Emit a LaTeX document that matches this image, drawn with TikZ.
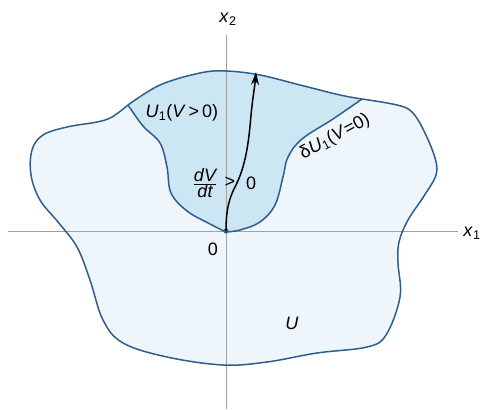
\documentclass[tikz,border=0pt]{standalone}
\usepackage{fontspec}
\setmainfont{Liberation Sans}
\usetikzlibrary{arrows.meta}
\definecolor{outerfill}{HTML}{EEF6FC}
\definecolor{innerfill}{HTML}{CDE6F4}
\definecolor{bnd}{HTML}{2E5E8C}
\definecolor{axisgray}{HTML}{A0A0A0}
\tikzset{
  boundary/.style={draw=bnd, line width=1.5pt, line join=round},
  axisline/.style={draw=axisgray, line width=0.7pt},
  lbl/.style={font=\fontsize{18}{20}\selectfont, inner sep=0pt},
  traj/.style={draw=black, line width=1.5pt, -{Stealth[length=13pt,width=8pt]}},
  sm/.style={smooth, tension=0.6}
}
\begin{document}
\begin{tikzpicture}[x=1pt,y=-1pt]
\useasboundingbox (0,0) rectangle (486,409);
% fills
\fill[outerfill] plot[sm] coordinates {(128,105) (160,85) (200,73) (226,71) (260,75) (300,85) (340,95) (362,99)}
  -- plot[sm] coordinates {(362,99) (397,105) (412,112) (424,131) (435,158) (436,175) (424,196) (408,220) (399,242) (398,263) (400,297) (386,335) (367,347) (317,353) (267,362) (223,365) (167,357) (123,343) (103,320) (90,280) (77,247) (58,222) (40,200) (31,175) (32,150) (43,135) (67,127) (97,122) (112,117) (128,105)} -- cycle;
\fill[innerfill] plot[sm] coordinates {(128,105) (160,85) (200,73) (226,71) (260,75) (300,85) (340,95) (362,99)}
  -- plot[sm] coordinates {(362,99) (333,119) (302,139) (288,157) (283,177) (275,205) (260,222) (240,230) (226,232)}
  -- plot[sm] coordinates {(226,232) (210,224) (187,211) (171,193) (167,167) (160,143) (143,126) (128,105)} -- cycle;
% axes
\draw[axisline] (8,231) -- (458,231);
\draw[axisline] (226,35) -- (226,409);
% boundaries
\draw[boundary] plot[sm] coordinates {(128,105) (160,85) (200,73) (226,71) (260,75) (300,85) (340,95) (362,99)}
  -- plot[sm] coordinates {(362,99) (397,105) (412,112) (424,131) (435,158) (436,175) (424,196) (408,220) (399,242) (398,263) (400,297) (386,335) (367,347) (317,353) (267,362) (223,365) (167,357) (123,343) (103,320) (90,280) (77,247) (58,222) (40,200) (31,175) (32,150) (43,135) (67,127) (97,122) (112,117) (128,105)};
\draw[boundary] plot[sm] coordinates {(362,99) (333,119) (302,139) (288,157) (283,177) (275,205) (260,222) (240,230) (226,232)}
  -- plot[sm] coordinates {(226,232) (210,224) (187,211) (171,193) (167,167) (160,143) (143,126) (128,105)};
% origin
\coordinate (O) at (226,231);
\coordinate (T) at (256,72);
\fill[bnd] (O) circle (2.6);
% trajectory
\draw[traj] (O) .. controls (226,210) and (229,198) .. (236,185)
  .. controls (246,165) and (249,140) .. (251,115)
  .. controls (253,95) and (255,85) .. (T);
% labels
\node[lbl] (x1) at (472,233) {\textit{x}\textsubscript{1}};
\node[lbl] (x2) at (228,19) {\textit{x}\textsubscript{2}};
\node[lbl] (o) at (213,249) {0};
\node[lbl] (U) at (292,323) {\textit{U}};
\node[lbl] (U1) at (182,113) {\textit{U}\textsubscript{1}(\textit{V}\,>\,0)};
\node[lbl, rotate=28] (dU1) at (335,137) {δ\textit{U}\textsubscript{1}(\textit{V}=0)};
\node[lbl] (frac) at (205,183) {$\frac{\textit{dV}}{\textit{dt}}$};
\node[lbl] (gt) at (230,182) {>};
\node[lbl] (zero) at (251,183) {0};
\end{tikzpicture}
\end{document}
